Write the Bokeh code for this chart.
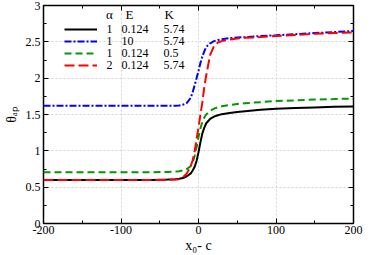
from bokeh.plotting import figure
from bokeh.models import (Range1d, LinearAxis, FixedTicker, NumeralTickFormatter,
                          CustomJSTickFormatter, Legend, LegendItem, Label)
from bokeh.embed import file_html
from bokeh.resources import INLINE

# ---- data ----
x0c = [-200, -150, -100, -60, -40, -30, -25, -20, -15, -10, -7.5, -5, -2.5, 0,
       2.5, 5, 7.5, 10, 15, 20, 25, 30, 40, 50, 60, 80, 100, 125, 150, 175, 200]

theta_a1_E0124_K574 = [0.60, 0.60, 0.60, 0.60, 0.605, 0.61, 0.615, 0.625, 0.65, 0.69,
                       0.73, 0.78, 0.86, 0.98, 1.12, 1.24, 1.32, 1.38, 1.44, 1.47,
                       1.49, 1.505, 1.52, 1.535, 1.545, 1.565, 1.578, 1.59, 1.598,
                       1.605, 1.61]
theta_a1_E10_K574 = [1.62, 1.62, 1.62, 1.62, 1.62, 1.62, 1.625, 1.635, 1.66, 1.73,
                     1.81, 1.90, 2.00, 2.10, 2.21, 2.30, 2.37, 2.43, 2.48, 2.51,
                     2.525, 2.535, 2.55, 2.56, 2.565, 2.58, 2.59, 2.605, 2.62,
                     2.635, 2.65]
theta_a1_E0124_K05 = [0.705, 0.705, 0.705, 0.705, 0.71, 0.715, 0.72, 0.73, 0.75, 0.79,
                      0.84, 0.93, 1.05, 1.19, 1.31, 1.40, 1.46, 1.50, 1.55, 1.58,
                      1.60, 1.615, 1.63, 1.645, 1.655, 1.67, 1.685, 1.695, 1.705,
                      1.712, 1.72]
theta_a2_E0124_K574 = [0.60, 0.60, 0.60, 0.60, 0.60, 0.605, 0.61, 0.635, 0.69, 0.79,
                       0.87, 0.99, 1.16, 1.32, 1.50, 1.67, 1.88, 2.04, 2.32, 2.44,
                       2.49, 2.51, 2.53, 2.545, 2.555, 2.565, 2.58, 2.595, 2.61,
                       2.62, 2.63]

alpha_col = ["1", "1", "1", "2"]
E_col = ["0.124", "10", "0.124", "0.124"]
K_col = ["5.74", "5.74", "0.5", "5.74"]
header = ["α", "E", "K"]

x_major = [-200, -100, 0, 100, 200]
x_minor = [-150, -50, 50, 150]
y_major = [0, 0.5, 1, 1.5, 2, 2.5, 3]
y_minor = [0.25, 0.75, 1.25, 1.75, 2.25, 2.75]

SERIF = "Liberation Serif"

p = figure(width=374, height=255, output_backend="svg",
           toolbar_location=None, x_range=Range1d(-200, 200), y_range=Range1d(0, 3),
           min_border_left=42, min_border_right=21, min_border_top=5,
           min_border_bottom=32, x_axis_location=None, y_axis_location=None)
p.background_fill_color = "white"
p.border_fill_color = "white"
p.outline_line_color = "black"
p.outline_line_width = 1.5

xt = FixedTicker(ticks=x_major, minor_ticks=x_minor)
yt = FixedTicker(ticks=y_major, minor_ticks=y_minor)
blank = CustomJSTickFormatter(code="return ''")


def style(ax):
    ax.axis_line_color = None
    ax.major_tick_in = 5
    ax.major_tick_out = 0
    ax.minor_tick_in = 3
    ax.minor_tick_out = 0
    ax.major_tick_line_color = "black"
    ax.minor_tick_line_color = "black"
    ax.major_label_text_font = SERIF
    ax.major_label_text_color = "black"
    ax.major_label_text_font_size = "12px"
    ax.axis_label_text_font = SERIF
    ax.axis_label_text_font_style = "normal"
    ax.axis_label_text_color = "black"
    ax.axis_label_text_font_size = "14px"


bx = LinearAxis(ticker=xt, formatter=NumeralTickFormatter(format="0"),
                axis_label="x₀- c")
style(bx)
bx.major_label_standoff = 2
bx.axis_label_standoff = 1
p.add_layout(bx, "below")
tx = LinearAxis(ticker=xt, formatter=blank)
style(tx)
tx.major_label_standoff = 0
p.add_layout(tx, "above")
ly = LinearAxis(ticker=yt, formatter=NumeralTickFormatter(format="0.[0]"),
                axis_label="θₐₚ")
style(ly)
ly.major_label_standoff = 3
ly.axis_label_standoff = 4
p.add_layout(ly, "left")
ry = LinearAxis(ticker=yt, formatter=blank)
style(ry)
ry.major_label_standoff = 0
p.add_layout(ry, "right")

p.xgrid.ticker = xt
p.ygrid.ticker = yt
for g in (p.xgrid, p.ygrid):
    g.grid_line_color = "#d4d4d4"
    g.grid_line_dash = "2 2"
    g.grid_line_width = 1

r1 = p.line(x0c, theta_a1_E0124_K574, line_color="black", line_width=2)
r2 = p.line(x0c, theta_a1_E10_K574, line_color="#0000ff", line_width=2,
            line_dash="7 2 2 2")
r3 = p.line(x0c, theta_a1_E0124_K05, line_color="#009900", line_width=2,
            line_dash="7 4")
r4 = p.line(x0c, theta_a2_E0124_K574, line_color="#ff0000", line_width=2,
            line_dash="10 4")

# legend line samples only; the table columns are drawn as labels beside them
items = [LegendItem(label="", renderers=[r]) for r in [r1, r2, r3, r4]]
leg = Legend(items=items, location=(21, 152), padding=0, margin=0, spacing=0,
             glyph_width=33, glyph_height=12, label_height=12, label_width=0,
             label_standoff=0, border_line_color=None, background_fill_alpha=0,
             label_text_font=SERIF, label_text_font_size="12px")
p.add_layout(leg)

row_y = [194.4, 182.4, 170.4, 158.4]
col_x = [63, 78, 120]
for yy, a, e, k in zip(row_y, alpha_col, E_col, K_col):
    for xx, txt in zip(col_x, (a, e, k)):
        p.add_layout(Label(x=xx, y=yy, x_units="screen", y_units="screen", text=txt,
                           text_font=SERIF, text_font_size="12px",
                           text_baseline="middle", text_align="left",
                           text_color="black"))

for txt, xx, al in zip(header, [66, 82, 121], ["center", "left", "left"]):
    p.add_layout(Label(x=xx, y=209, x_units="screen", y_units="screen", text=txt,
                       text_font=SERIF, text_font_size="13px", text_baseline="middle",
                       text_align=al, text_color="black"))

open("out.html", "w").write(file_html(p, INLINE))
